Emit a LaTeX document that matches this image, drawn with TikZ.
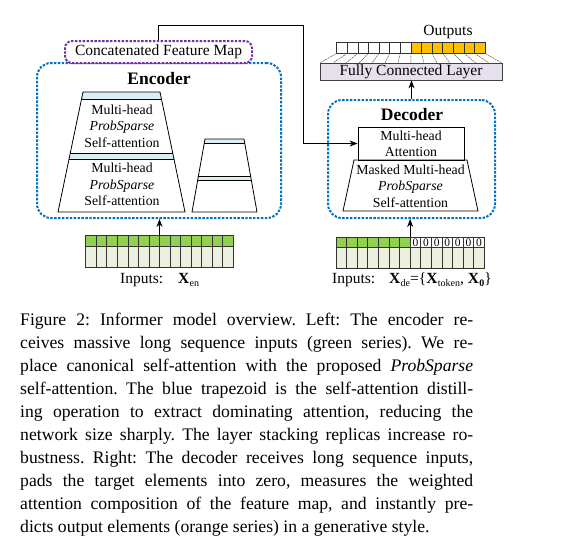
\documentclass[tikz,border=0pt]{standalone}
\usepackage{fontspec}
\setmainfont{Liberation Serif}
\usetikzlibrary{arrows.meta}
\definecolor{dotblue}{HTML}{0070C0}
\definecolor{dotpurple}{HTML}{7030A0}
\definecolor{barblue}{HTML}{DAEEF3}
\definecolor{ingreen}{HTML}{92D050}
\definecolor{inlight}{HTML}{EBF1DE}
\definecolor{outorange}{HTML}{FFC000}
\definecolor{fcfill}{HTML}{E6E0EC}
\newcommand\dgsmall{\fontsize{13.8}{16.3}\selectfont}
\newcommand\dglabel{\fontsize{15.5}{17}\selectfont}
\newcommand\dghead{\fontsize{17.5}{19}\selectfont\bfseries}
\newcommand\dgzero{\fontsize{11.5}{12}\selectfont}
\newcommand\dgsub{\fontsize{10}{10}\selectfont}
\newcommand\dgcap{\fontsize{17.65}{23}\selectfont\frenchspacing}
\newcommand\dgX[1]{\textbf{X}\kern0.3pt\raisebox{-3pt}{\dgsub #1}}
\begin{document}
\begin{tikzpicture}[x=1pt,y=-1pt,
  dotbox/.style={draw=dotblue,line width=2pt,dash pattern=on 2.4pt off 1.5pt,rounded corners=14pt},
  purplebox/.style={draw=dotpurple,line width=2pt,dash pattern=on 2.4pt off 1.5pt,rounded corners=7pt},
  trap/.style={draw=black,line width=0.8pt},
  cellline/.style={draw=black!80,line width=0.6pt},
  fanline/.style={draw=black!65,line width=0.5pt,dash pattern=on 2pt off 0.8pt},
  arr/.style={draw=black,line width=0.8pt,-{Stealth[length=8pt,width=6pt]}},
  txt/.style={inner sep=0pt,align=center},
  capline/.style={anchor=base west,inner sep=0pt,font=\dgcap}]
\useasboundingbox (0,0) rectangle (570,552);
\fill[white] (0,0) rectangle (570,552);

% ---------------- Encoder ----------------
\node[dotbox,minimum width=244pt,minimum height=155pt,inner sep=0pt] (enc) at (159,140.5) {};
\node[purplebox,fill=white,minimum width=187pt,minimum height=22pt,inner sep=0pt,font=\dglabel] (concat) at (158.5,52) {Concatenated Feature Map};
\node[txt,font=\dghead] (enclbl) at (159,79) {Encoder};

% big trapezoid stack
\fill[barblue] (83,92) -- (160,92) -- (161.46,99) -- (81.54,99) -- cycle;
\fill[barblue] (70.29,153) -- (172.71,153) -- (173.96,159) -- (69.04,159) -- cycle;
\draw[trap] (83,92) -- (160,92) -- (185,212) -- (58,212) -- cycle;
\draw[trap] (81.54,99) -- (161.46,99);
\draw[trap] (70.29,153) -- (172.71,153);
\draw[trap] (69.04,159) -- (173.96,159);
\node[txt,font=\dgsmall] (enctxt1) at (122,126) {Multi-head\\\textit{ProbSparse}\\Self-attention};
\node[txt,font=\dgsmall] (enctxt2) at (122,184.5) {Multi-head\\\textit{ProbSparse}\\Self-attention};

% small trapezoid stack
\fill[barblue] (205,139) -- (244,139) -- (244.71,143) -- (204.29,143) -- cycle;
\fill[barblue] (198.41,176) -- (250.59,176) -- (251.30,180) -- (197.70,180) -- cycle;
\draw[trap] (205,139) -- (244,139) -- (257,212) -- (192,212) -- cycle;
\draw[trap] (204.29,143) -- (244.71,143);
\draw[trap] (198.41,176) -- (250.59,176);
\draw[trap] (197.70,180) -- (251.30,180);

% encoder inputs
\fill[inlight] (85.7,235.7) rectangle (233.3,267.7);
\fill[ingreen] (85.7,235.7) rectangle (233.3,246.3);
\draw[cellline] (85.7,246.3) -- (233.3,246.3);
\foreach \i in {1,...,13} \draw[cellline] ({85.7+\i*10.543},235.7) -- ++(0,32);
\node[draw=black!80,line width=0.6pt,minimum width=147.6pt,minimum height=32pt,inner sep=0pt] (encin) at (159.5,251.7) {};
\node[anchor=base west,inner sep=0pt,font=\dglabel] (encinlbl) at (120,283) {Inputs:};
\node[anchor=base west,inner sep=0pt,font=\dglabel] (encinX) at (178,283) {\dgX{en}};
\draw[arr] (encin.north) -- (encin.north |- enc.south);

% ---------------- Decoder ----------------
\node[dotbox,minimum width=167pt,minimum height=118pt,inner sep=0pt] (dec) at (411.5,159) {};
\node[txt,font=\dghead] (declbl) at (412,115) {Decoder};
\node[draw=black,line width=0.8pt,fill=white,minimum width=106pt,minimum height=33pt,inner sep=0pt,align=center,font=\dgsmall] (att) at (411,143.5) {Multi-head\\Attention};
\draw[trap] (354,160) -- (467,160) -- (478,211) -- (343,211) -- cycle;
\node[txt,font=\dgsmall] (dectxt) at (410.5,186) {Masked Multi-head\\\textit{ProbSparse}\\Self-attention};

% decoder inputs
\fill[inlight] (336,237) rectangle (484.3,268);
\fill[ingreen] (336,237) rectangle ({336+7*10.593},247);
\fill[white] ({336+7*10.593},237) rectangle (484.3,247);
\draw[cellline] (336,247) -- (484.3,247);
\foreach \i in {1,...,13} \draw[cellline] ({336+\i*10.593},237) -- ++(0,31);
\foreach \i in {7,...,13} \node[inner sep=0pt,font=\dgzero] at ({336+(\i+0.5)*10.593},242.3) {0};
\node[draw=black!80,line width=0.6pt,minimum width=148.3pt,minimum height=31pt,inner sep=0pt] (decin) at (410.15,252.5) {};
\node[anchor=base west,inner sep=0pt,font=\dglabel] (decinlbl) at (332,283) {Inputs:};
\node[anchor=base west,inner sep=0pt,font=\dglabel] (decinX) at (389,283) {\dgX{de}=\{\dgX{token}, \textbf{X}\kern0.3pt\raisebox{-3pt}{\dgsub\bfseries 0}\}};
\draw[arr] (decin.north) -- (decin.north |- dec.south);

% fully connected + outputs
\node[draw=black!75,line width=0.8pt,fill=fcfill,minimum width=182pt,minimum height=17pt,inner sep=0pt,font=\dglabel] (fc) at (411,71.5) {Fully Connected Layer};
\fill[outorange] ({336.7+7*10.593},42.3) rectangle ({336.7+14*10.593},53.3);
\foreach \i in {1,...,13} \draw[cellline] ({336.7+\i*10.593},42.3) -- ++(0,11);
\node[draw=black!80,line width=0.6pt,minimum width=148.3pt,minimum height=11pt,inner sep=0pt] (outs) at (410.85,47.8) {};
\foreach \i in {0,...,14} \draw[fanline] ({336.7+\i*10.593},53.3) -- ({320+\i*13},63);
\node[txt,font=\dglabel] (outlbl) at (448,32) {Outputs};
\draw[arr] (dec.north) -- (dec.north |- fc.south);

% feature map connector
\coordinate (bend) at (303,25);
\draw[arr] (concat.north) |- (bend) |- (att.west);

% ---------------- Caption ----------------
\node[capline] (cap1) at (20,325) {\makebox[453pt][s]{Figure 2: Informer model overview. Left: The encoder re-}};
\node[capline] (cap2) at (20,348) {\makebox[453pt][s]{ceives massive long sequence inputs (green series). We re-}};
\node[capline] (cap3) at (20,371) {\makebox[453pt][s]{place canonical self-attention with the proposed \textit{ProbSparse}}};
\node[capline] (cap4) at (20,394) {\makebox[453pt][s]{self-attention. The blue trapezoid is the self-attention distill-}};
\node[capline] (cap5) at (20,417) {\makebox[453pt][s]{ing operation to extract dominating attention, reducing the}};
\node[capline] (cap6) at (20,440) {\makebox[453pt][s]{network size sharply. The layer stacking replicas increase ro-}};
\node[capline] (cap7) at (20,463) {\makebox[453pt][s]{bustness. Right: The decoder receives long sequence inputs,}};
\node[capline] (cap8) at (20,486) {\makebox[453pt][s]{pads the target elements into zero, measures the weighted}};
\node[capline] (cap9) at (20,509) {\makebox[453pt][s]{attention composition of the feature map, and instantly pre-}};
\node[capline] (cap10) at (20,532) {dicts output elements (orange series) in a generative style.};
\end{tikzpicture}
\end{document}
